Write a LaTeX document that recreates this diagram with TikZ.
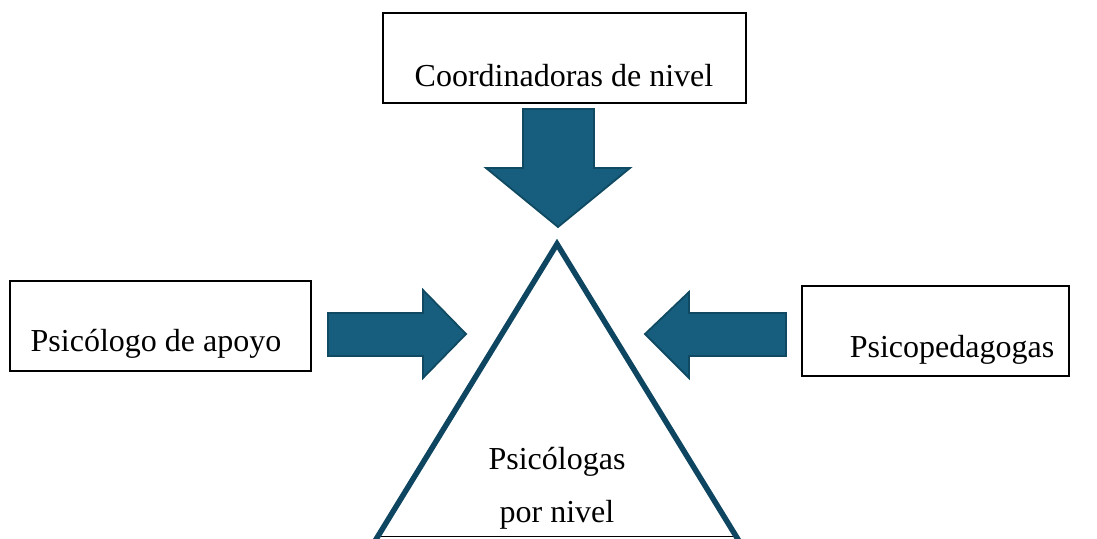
\documentclass[tikz,border=0pt]{standalone}
\usepackage{fontspec}
\setmainfont{Liberation Serif}
\definecolor{arrowfill}{HTML}{175E7E}
\definecolor{arrowline}{HTML}{0F4A62}
\definecolor{triline}{HTML}{0E4560}
\definecolor{baseline}{HTML}{C8D4DC}
\tikzset{
  box/.style={draw=black, line width=1.3pt, fill=white, inner sep=0pt},
  lbl/.style={font=\fontsize{32}{38}\selectfont, inner sep=0pt},
  blockarrow/.style={fill=arrowfill, draw=arrowline, line width=1.8pt, line join=miter}
}
\begin{document}
\begin{tikzpicture}[x=1pt,y=-1pt]
\useasboundingbox (0,0) rectangle (1097,538);
% boxes
\node[box, minimum width=363pt, minimum height=90pt] (top) at (564.5,58) {};
\node[lbl] (toptext) at (564,76) {Coordinadoras de nivel};
\node[box, minimum width=301pt, minimum height=90pt] (left) at (160.5,326) {};
\node[lbl] (lefttext) at (156,344) {Psicólogo de apoyo};
\node[box, minimum width=267pt, minimum height=90pt] (right) at (935.5,331) {};
\node[lbl] (righttext) at (952,350) {Psicopedagogas};
% block arrows
\draw[blockarrow] (523,109) -- (594,109) -- (594,168) -- (630,168) -- (558,227) -- (486,168) -- (523,168) -- cycle;
\draw[blockarrow] (328,313) -- (423,313) -- (423,290) -- (466,334) -- (423,378) -- (423,356) -- (328,356) -- cycle;
\draw[blockarrow] (786,313) -- (689,313) -- (689,292) -- (645,334) -- (689,378) -- (689,356) -- (786,356) -- cycle;
% triangle
\coordinate (apex) at (557,244);
\coordinate (bl) at (375,541);
\coordinate (br) at (739,541);
\draw[baseline, line width=1pt] (378,536.5) -- (738,536.5);
\draw[triline, line width=5.5pt, line join=miter] (bl) -- (apex) -- (br);
\node[lbl] (t1) at (557,462) {Psicólogas};
\node[lbl] (t2) at (557,515) {por nivel};
\end{tikzpicture}
\end{document}
